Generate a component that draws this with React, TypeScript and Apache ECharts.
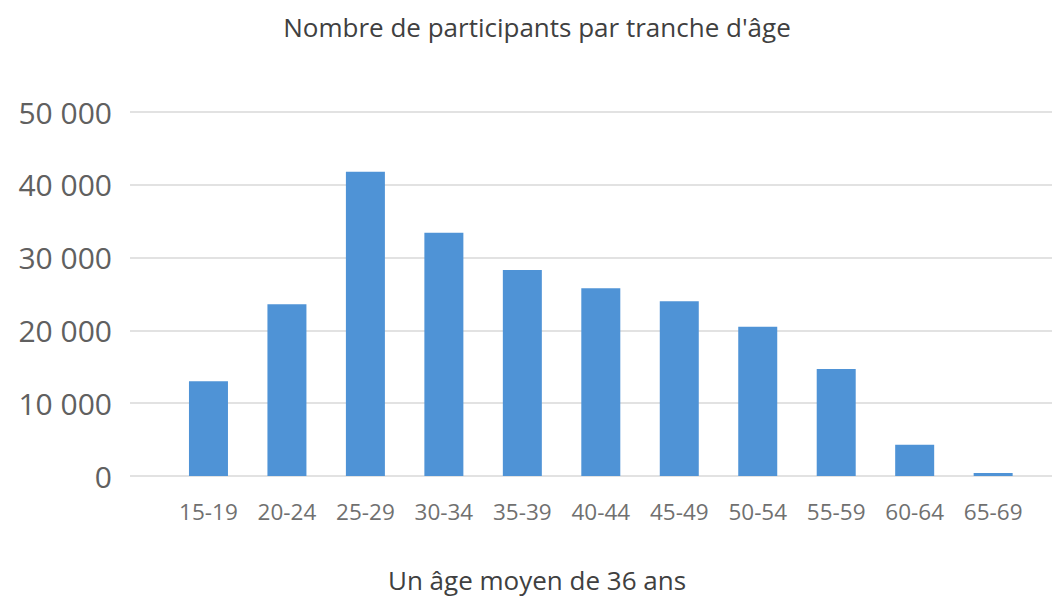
import React, { useEffect, useRef } from "react";
import * as echarts from "echarts";

const categories = ["15-19", "20-24", "25-29", "30-34", "35-39", "40-44", "45-49", "50-54", "55-59", "60-64", "65-69"];
const participants = [13000, 23600, 41800, 33400, 28300, 25800, 24000, 20500, 14700, 4300, 400];
const yTicks = [0, 10000, 20000, 30000, 40000, 50000];
const chartTitle = "Nombre de participants par tranche d'âge";
const footTitle = "Un âge moyen de 36 ans";

const fmt = (v: number) => {
  const s = String(Math.round(v));
  return s.replace(/\B(?=(\d{3})+(?!\d))/g, " ");
};

export default function App() {
  const ref = useRef<HTMLDivElement>(null);
  useEffect(() => {
    document.body.style.margin = "0";
    const chart = echarts.init(ref.current!, null, { renderer: "svg" });
    const font = "'Open Sans', 'Noto Sans', sans-serif";
    chart.setOption({
      animation: false,
      backgroundColor: "#ffffff",
      title: [
        {
          text: chartTitle,
          left: 532,
          top: 9,
          textAlign: "center",
          textStyle: { fontFamily: font, fontSize: 26, fontWeight: "normal", color: "#404040" },
        },
        {
          text: footTitle,
          left: 532,
          top: 562,
          textAlign: "center",
          textStyle: { fontFamily: font, fontSize: 26, fontWeight: "normal", color: "#404040" },
        },
      ],
      grid: { left: 130, right: 0, top: 112, bottom: 122, containLabel: false },
      xAxis: {
        type: "value",
        min: -1,
        max: 10.75,
        interval: 1,
        axisLine: { show: false },
        axisTick: { show: false },
        splitLine: { show: false },
        axisLabel: {
          margin: 24,
          showMaxLabel: false,
          fontFamily: font,
          fontSize: 22.5,
          color: "#707070",
          formatter: (v: number) => (Number.isInteger(v) && v >= 0 && v < categories.length ? categories[v] : ""),
        },
      },
      yAxis: {
        type: "value",
        min: yTicks[0],
        max: yTicks[yTicks.length - 1],
        interval: yTicks[1] - yTicks[0],
        axisLine: { show: false },
        axisTick: { show: false },
        splitLine: { lineStyle: { color: "#d9d9d9", width: 1.5 } },
        axisLabel: {
          margin: 18,
          fontFamily: font,
          fontSize: 30,
          color: "#606060",
          formatter: (v: number) => fmt(v),
        },
      },
      series: [
        {
          type: "bar",
          data: participants.map((v, i) => [i, v]),
          barWidth: 39,
          itemStyle: { color: "#4f93d6" },
        },
      ],
    });
    return () => chart.dispose();
  }, []);
  return <div ref={ref} style={{ position: "absolute", left: 0, top: 0, width: 1052, height: 598 }} />;
}
